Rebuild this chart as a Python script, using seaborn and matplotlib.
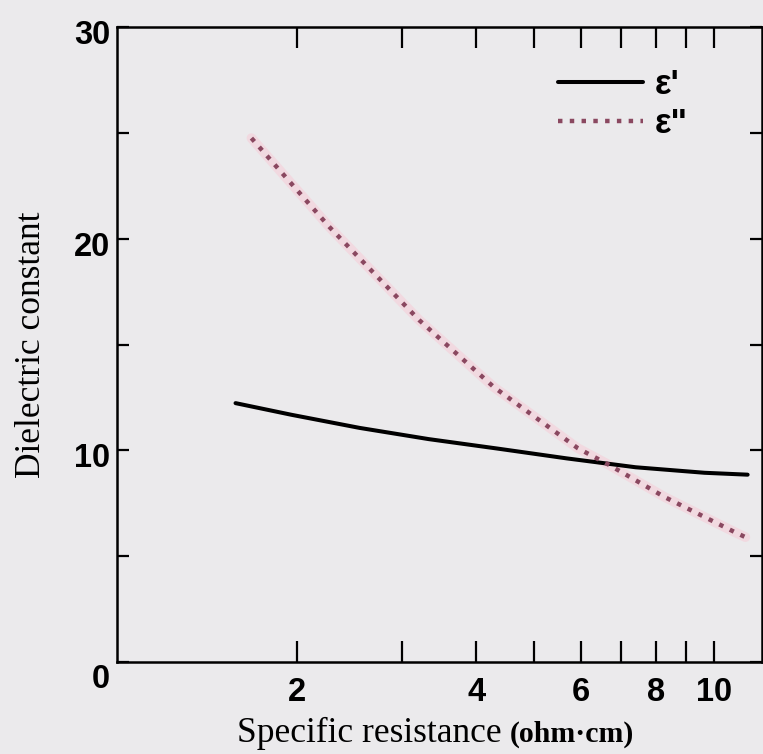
import matplotlib
matplotlib.use("Agg")
import matplotlib.pyplot as plt
import pandas as pd
import seaborn as sns
from matplotlib.ticker import FixedLocator, FixedFormatter, NullFormatter
from matplotlib.transforms import ScaledTranslation

# Real part of the dielectric constant vs. specific resistance
resist_real = [1.58, 1.96, 2.55, 3.33, 4.35, 5.67, 7.40, 9.65, 11.4]
eps_real = [12.23, 11.68, 11.06, 10.53, 10.08, 9.62, 9.20, 8.94, 8.85]

# Imaginary part of the dielectric constant vs. specific resistance
resist_imag = [1.68, 2.27, 3.21, 4.28, 5.92, 6.67, 8.28, 10.84, 11.3]
eps_imag = [24.75, 20.55, 16.15, 12.99, 10.10, 9.32, 7.79, 6.14, 5.90]

series_names = ["ε'", 'ε"']

x_major = [2, 4, 6, 8, 10]
x_major_labels = ["2", "4", "6", "8", "10"]
x_minor = [3, 5, 7, 9]
y_major = [0, 10, 20, 30]
y_major_labels = ["0", "10", "20", "30"]
y_minor = [5, 15, 25]

bg = "#ebeaec"
dot_color = "#8a4860"
halo_color = "#f3d5dd"

sns.set_theme(style="ticks")
plt.rcParams["font.family"] = ["Liberation Sans", "DejaVu Sans"]

df = pd.concat([
    pd.DataFrame({"resistance": resist_real, "eps": eps_real, "series": series_names[0]}),
    pd.DataFrame({"resistance": resist_imag, "eps": eps_imag, "series": series_names[1]}),
], ignore_index=True)

fig = plt.figure(figsize=(7.63, 7.54), dpi=100, facecolor=bg)
ax = fig.add_axes([117 / 763, 1 - 662 / 754, (762 - 117) / 763, (662 - 27) / 754])
ax.set_facecolor(bg)

# soft pink glow under the dotted curve
sns.lineplot(data=df[df.series == series_names[1]], x="resistance", y="eps",
             color=halo_color, linewidth=7, alpha=0.8, estimator=None,
             legend=False, ax=ax, zorder=1)

sns.lineplot(data=df, x="resistance", y="eps", hue="series", style="series",
             palette={series_names[0]: "black", series_names[1]: dot_color},
             dashes={series_names[0]: "", series_names[1]: (1, 1.65)},
             linewidth=3.2, estimator=None, ax=ax, zorder=3)

for ln in ax.get_lines()[1:]:
    if ln.get_linestyle() == "-":
        ln.set_linewidth(2.9)

ax.set_xscale("log")
ax.set_xlim(1.0, 12.05)
ax.set_ylim(0, 30)

ax.xaxis.set_major_locator(FixedLocator(x_major))
ax.xaxis.set_major_formatter(FixedFormatter(x_major_labels))
ax.xaxis.set_minor_locator(FixedLocator(x_minor))
ax.xaxis.set_minor_formatter(NullFormatter())
ax.yaxis.set_major_locator(FixedLocator(y_major))
ax.yaxis.set_major_formatter(FixedFormatter(y_major_labels))
ax.yaxis.set_minor_locator(FixedLocator(y_minor))

ax.tick_params(axis="x", which="both", direction="in", length=15, width=1.6,
               top=True, bottom=True, color="black", pad=11)
ax.tick_params(axis="y", which="both", direction="in", length=8.5, width=1.6,
               left=True, right=True, color="black", pad=5)

for lab in ax.get_xticklabels() + ax.get_yticklabels():
    lab.set_fontfamily("Liberation Sans")
    lab.set_fontweight("bold")
    lab.set_fontsize(23.5)
    lab.set_color("black")

# nudge the y labels down a little, the zero further to clear the x ticks
for lab in ax.get_yticklabels():
    dy = -14 if lab.get_text() == "0" else -5
    lab.set_transform(lab.get_transform() + ScaledTranslation(0, dy / 100, fig.dpi_scale_trans))

for sp in ax.spines.values():
    sp.set_visible(True)
    sp.set_linewidth(1.8)
    sp.set_color("black")

ax.set_ylabel("Dielectric constant", fontfamily="Liberation Serif", fontsize=25.5,
              color="black", va="center")
ax.yaxis.set_label_coords(-0.132, 0.5)

ax.set_xlabel("Specific resistance", fontfamily="Liberation Serif", fontsize=25.5,
              color="black", ha="left", va="baseline")
ax.xaxis.set_label_coords((237 - 117) / 645, (662 - 742) / 635)
ax.text((510 - 117) / 645, (662 - 742) / 635, "(ohm·cm)", transform=ax.transAxes,
        fontfamily="Liberation Serif", fontweight="bold", fontsize=21.5,
        color="black", ha="left", va="baseline")

handles, labels = ax.get_legend_handles_labels()
leg = ax.legend(handles, labels, loc="upper left",
                bbox_to_anchor=((558 - 117) / 645, (662 - 68) / 635),
                frameon=False, borderpad=0, borderaxespad=0,
                handlelength=2.45, handletextpad=0.34, labelspacing=0.18,
                prop={"family": "Liberation Sans", "weight": "bold", "size": 25})
for t in leg.get_texts():
    t.set_color("black")

fig.savefig("out.png", dpi=100, facecolor=bg)
